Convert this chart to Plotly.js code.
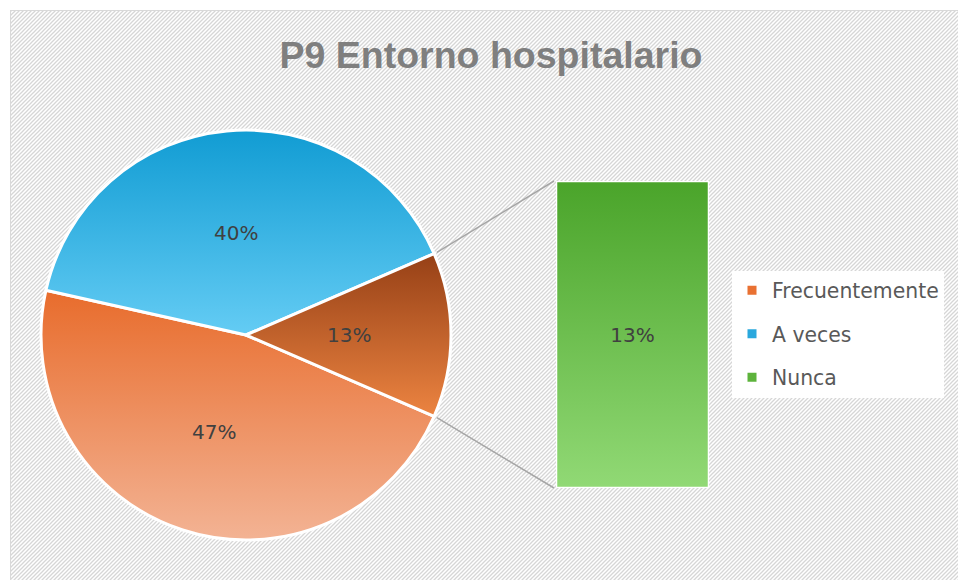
<!DOCTYPE html>
<html>
<head>
<meta charset="utf-8">
<script src="https://cdn.plot.ly/plotly-3.0.1.min.js"></script>
<style>
  html, body { margin: 0; padding: 0; background: #ffffff; width: 958px; height: 580px; overflow: hidden; position: relative; }
  #frame {
    position: absolute; left: 10px; top: 10px; width: 1000px; height: 620px;
    border-left: 1px solid #d9d9d9; border-top: 1px solid #d9d9d9;
    background-color: #ffffff;
    background-image: url("data:image/svg+xml,%3Csvg xmlns='http://www.w3.org/2000/svg' width='4' height='4'%3E%3Cpath d='M-1,1 L1,-1 M0,4 L4,0 M3,5 L5,3' stroke='%23d6d6d6' stroke-width='1.3'/%3E%3C/svg%3E");
  }
  #chart { position: absolute; left: 0; top: 0; width: 958px; height: 580px; }
</style>
</head>
<body>
<div id="frame"></div>
<div id="chart"></div>
<script>
// ---- data ----
const chartTitle = 'P9 Entorno hospitalario';
const pieLabels = ['Frecuentemente', 'A veces', 'Otro'];
const pieValues = [47, 40, 13];
const barLabels = ['Nunca'];
const barValues = [13];
const legendLabels = ['Frecuentemente', 'A veces', 'Nunca'];

// ---- styling ----
const W = 958, H = 580;
const pieCx = 246, pieCy = 335, pieR = 205;          // pixel geometry of pie
const barLeft = 556, barRight = 709, barTop = 181, barBottom = 488;
const solidColors = ['#EA8450', '#3AB2E3', '#C65F2A'];
const legendColors = ['#E97132', '#2AA8DD', '#5DB33C'];
const grads = [
  ['gFrec', '#E86C2C', '#F3B394'],
  ['gAve', '#119CD3', '#64CCF4'],
  ['gOtro', '#964016', '#EC8441'],
  ['gNunca', '#4AA42A', '#91D975']
];
const labelFont = {family: 'DejaVu Sans', size: 20, color: '#404040'};

const total = pieValues.reduce((a, b) => a + b, 0);
const otherFrac = pieValues[2] / total;
const rotation = 90 + otherFrac * 180;   // clockwise from 12 o'clock

// paper conversions
const px2x = p => p / W;
const py2y = p => 1 - p / H;

// pie percentage labels placed at half radius on the mid angle of each slice
const annotations = [];
let startAngle = 90 - rotation; // math degrees
pieValues.forEach((v, i) => {
  const frac = v / total;
  const mid = (startAngle - frac * 180) * Math.PI / 180;
  startAngle -= frac * 360;
  annotations.push({
    xref: 'paper', yref: 'paper',
    x: px2x(pieCx + 0.5 * pieR * Math.cos(mid)),
    y: py2y(pieCy - 0.5 * pieR * Math.sin(mid)),
    text: Math.round(frac * 100) + '%',
    showarrow: false, font: labelFont, xanchor: 'center', yanchor: 'middle'
  });
});

// connector lines from "other" slice edges to bar corners
const edgeA = otherFrac * Math.PI; // half angle of other slice
const shapes = [
  {type: 'line', xref: 'paper', yref: 'paper',
   x0: px2x(pieCx + (pieR + 3) * Math.cos(edgeA)), y0: py2y(pieCy - (pieR + 3) * Math.sin(edgeA)),
   x1: px2x(barLeft - 2), y1: py2y(barTop),
   line: {color: '#A6A6A6', width: 1.5}},
  {type: 'line', xref: 'paper', yref: 'paper',
   x0: px2x(pieCx + (pieR + 3) * Math.cos(-edgeA)), y0: py2y(pieCy - (pieR + 3) * Math.sin(-edgeA)),
   x1: px2x(barLeft - 2), y1: py2y(barBottom),
   line: {color: '#A6A6A6', width: 1.5}}
];

const data = [
  {
    type: 'pie', labels: pieLabels, values: pieValues, sort: false,
    direction: 'clockwise', rotation: rotation,
    domain: {x: [px2x(pieCx - pieR), px2x(pieCx + pieR)], y: [py2y(pieCy + pieR), py2y(pieCy - pieR)]},
    marker: {colors: solidColors, line: {color: '#ffffff', width: 3}},
    textinfo: 'none', hoverinfo: 'none', showlegend: false
  },
  {
    type: 'bar', x: barLabels, y: barValues, width: 1,
    text: barValues.map(v => Math.round(v / total * 100) + '%'),
    textposition: 'inside', insidetextanchor: 'middle', textangle: 0,
    textfont: labelFont, constraintext: 'none',
    marker: {color: '#6DC050', line: {color: '#ffffff', width: 2.5}},
    hoverinfo: 'none', showlegend: false, xaxis: 'x', yaxis: 'y'
  }
];
legendLabels.forEach((name, i) => {
  data.push({
    type: 'scatter', mode: 'markers', x: [null], y: [null], name: name,
    legendgroup: 'g' + i,
    marker: {symbol: 'square', size: 9, color: legendColors[i]},
    xaxis: 'x', yaxis: 'y', hoverinfo: 'none'
  });
});

const layout = {
  width: W, height: H,
  margin: {l: 0, r: 0, t: 0, b: 0},
  paper_bgcolor: 'rgba(0,0,0,0)', plot_bgcolor: 'rgba(0,0,0,0)',
  title: {
    text: chartTitle, x: 491 / W, xanchor: 'center', y: py2y(55), yanchor: 'middle',
    font: {family: 'Liberation Sans', size: 37.5, color: '#7F7F7F', weight: 700}
  },
  xaxis: {domain: [px2x(barLeft), px2x(barRight)], type: 'category', range: [-0.5, 0.5], visible: false, fixedrange: true},
  yaxis: {domain: [py2y(barBottom), py2y(barTop)], range: [0, barValues[0]], visible: false, fixedrange: true},
  bargap: 0,
  showlegend: true,
  legend: {
    x: px2x(732), xanchor: 'left', y: py2y(334), yanchor: 'middle',
    bgcolor: '#ffffff', borderwidth: 0,
    font: {family: 'DejaVu Sans', size: 20.4, color: '#595959'},
    traceorder: 'grouped', tracegroupgap: 14
  },
  annotations: annotations,
  shapes: shapes
};

const gd = document.getElementById('chart');
Plotly.newPlot(gd, data, layout, {staticPlot: true, displayModeBar: false}).then(() => {
  const ns = 'http://www.w3.org/2000/svg';
  const svg = gd.querySelector('svg.main-svg');
  let defs = svg.querySelector('defs');
  if (!defs) { defs = document.createElementNS(ns, 'defs'); svg.insertBefore(defs, svg.firstChild); }
  grads.forEach(([id, c0, c1]) => {
    const lg = document.createElementNS(ns, 'linearGradient');
    lg.setAttribute('id', id);
    lg.setAttribute('x1', '0'); lg.setAttribute('y1', '0');
    lg.setAttribute('x2', '0'); lg.setAttribute('y2', '1');
    [[0, c0], [1, c1]].forEach(([o, c]) => {
      const s = document.createElementNS(ns, 'stop');
      s.setAttribute('offset', String(o));
      s.setAttribute('stop-color', c);
      lg.appendChild(s);
    });
    defs.appendChild(lg);
  });
  const slices = gd.querySelectorAll('.pielayer .slice path.surface');
  slices.forEach((p, i) => { if (grads[i]) p.style.fill = 'url(#' + grads[i][0] + ')'; });
  const bars = gd.querySelectorAll('.barlayer .point path');
  bars.forEach(p => { p.style.fill = 'url(#gNunca)'; });
});
</script>
</body>
</html>
